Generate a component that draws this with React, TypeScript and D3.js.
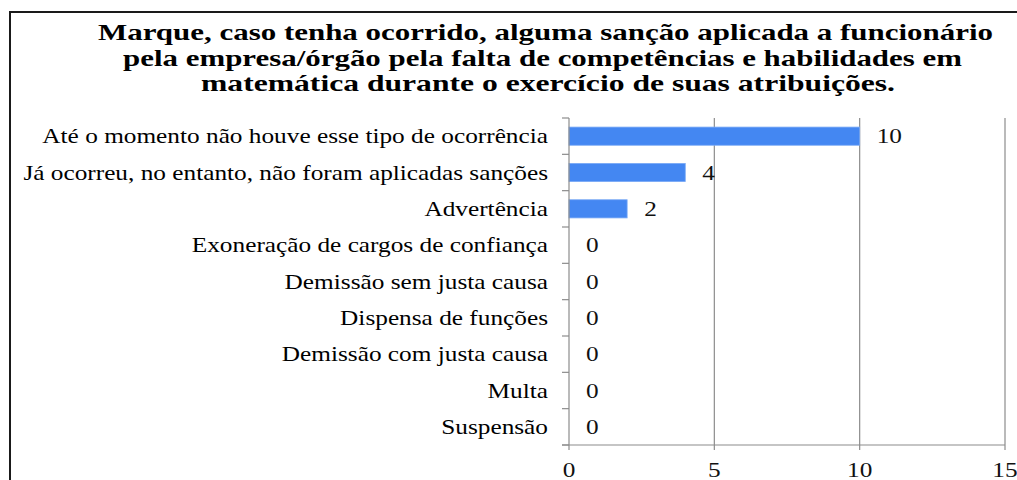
import React from "react";
import * as d3 from "d3";

const titleLines = [
  "Marque, caso tenha ocorrido, alguma sanção aplicada a funcionário",
  "pela empresa/órgão pela falta de competências e habilidades em",
  "matemática durante o exercício de suas atribuições.",
];
const categories = [
  "Até o momento não houve esse tipo de ocorrência",
  "Já ocorreu, no entanto, não foram aplicadas sanções",
  "Advertência",
  "Exoneração de cargos de confiança",
  "Demissão sem justa causa",
  "Dispensa de funções",
  "Demissão com justa causa",
  "Multa",
  "Suspensão",
];
const values = [10, 4, 2, 0, 0, 0, 0, 0, 0];
const xTicks = [0, 5, 10, 15];

const W = 1017;
const H = 480;
const SX = 1.265;
const FONT = "Liberation Serif, Times New Roman, Tinos, DejaVu Serif, serif";

export default function App() {
  const x = d3.scaleLinear().domain([0, 15]).range([569, 1005]);
  const y = d3
    .scaleBand<string>()
    .domain(categories)
    .range([118, 445])
    .paddingInner(0.5)
    .paddingOuter(0.25);
  const step = y.step();
  const top = 118;
  const bottom = 445;
  const titleFits = [
    { x0: 98, x1: 993, y: 40 },
    { x0: 123, x1: 962, y: 65.5 },
    { x0: 201, x1: 895, y: 91 },
  ];
  const grid = "#8c8c8c";
  const ts = { fontFamily: FONT };
  return (
    <svg
      width={W}
      height={H}
      style={{ position: "absolute", left: 0, top: 0, background: "#fff", fontFamily: FONT }}
    >
      <rect x={0} y={0} width={W} height={H} fill="#fff" />
      <rect x={10} y={12} width={1100} height={600} fill="none" stroke="#1a1a1a" strokeWidth={2} />
      {titleLines.map((t, i) => (
        <text
          key={i}
          x={titleFits[i].x0}
          y={titleFits[i].y}
          textLength={titleFits[i].x1 - titleFits[i].x0}
          lengthAdjust="spacingAndGlyphs"
          fontSize={23}
          fontWeight="bold"
          fill="#000"
          style={ts}
        >
          {t}
        </text>
      ))}
      {xTicks.slice(1).map((t) => (
        <line key={t} x1={x(t)} x2={x(t)} y1={top} y2={bottom} stroke={grid} strokeWidth={1.2} />
      ))}
      {categories.map((c, i) => (
        <rect
          key={c}
          x={x(0)}
          y={y(c)!}
          width={x(values[i]) - x(0)}
          height={y.bandwidth()}
          fill="#4487f2"
          stroke="#7aaaf5"
          strokeWidth={values[i] > 0 ? 0.8 : 0}
        />
      ))}
      <line x1={x(0)} x2={x(0)} y1={top} y2={bottom} stroke={grid} strokeWidth={1.2} />
      {d3.range(categories.length + 1).map((k) => (
        <line key={k} x1={562} x2={x(0)} y1={top + k * step} y2={top + k * step} stroke={grid} strokeWidth={1.2} />
      ))}
      <line x1={562} x2={x(15)} y1={bottom} y2={bottom} stroke={grid} strokeWidth={1.2} />
      {xTicks.map((t) => (
        <line key={t} x1={x(t)} x2={x(t)} y1={bottom} y2={bottom + 5} stroke={grid} strokeWidth={1.2} />
      ))}
      {xTicks.map((t) => (
        <text
          key={t}
          transform={`translate(${x(t)},${477}) scale(${SX},1)`}
          textAnchor="middle"
          fontSize={20}
          fill="#111"
          style={ts}
        >
          {t}
        </text>
      ))}
      {categories.map((c) => (
        <text
          key={c}
          transform={`translate(548,${y(c)! + y.bandwidth() / 2 + 7}) scale(${SX},1)`}
          textAnchor="end"
          fontSize={20}
          fill="#000"
          style={ts}
        >
          {c}
        </text>
      ))}
      {categories.map((c, i) => (
        <text
          key={c}
          transform={`translate(${x(values[i]) + 17},${y(c)! + y.bandwidth() / 2 + 7}) scale(${SX},1)`}
          fontSize={20}
          fill="#111"
          style={ts}
        >
          {values[i]}
        </text>
      ))}
    </svg>
  );
}
